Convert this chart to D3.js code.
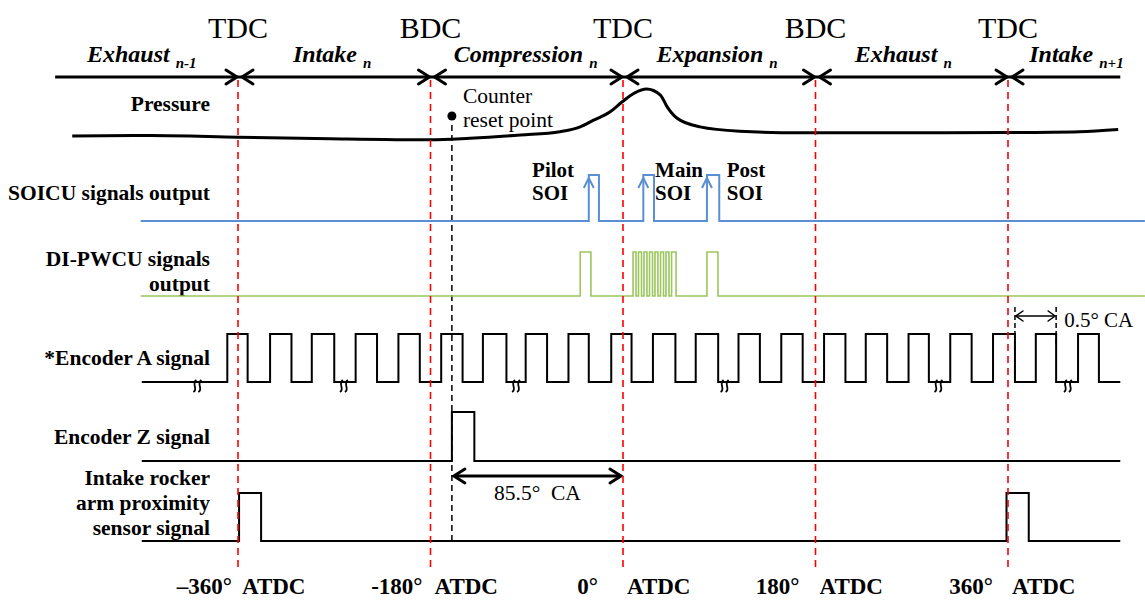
<!DOCTYPE html>
<html><head><meta charset="utf-8">
<script src="https://cdn.jsdelivr.net/npm/d3@7"></script>
<style>html,body{margin:0;padding:0;background:#fff}svg{display:block}</style>
</head><body>
<svg id="chart" width="1145" height="600"></svg>
<script>
// ---------- data (crank angle in degrees ATDC) ----------
const crankTicks = [-360, -180, 0, 180, 360];
const deadCentres = ["TDC", "BDC", "TDC", "BDC", "TDC"];
const tickLabels = ["\u2013360\u00B0", "-180\u00B0", "0\u00B0", "180\u00B0", "360\u00B0"];
const tickUnit = "ATDC";

const strokeNames = ["Exhaust", "Intake", "Compression", "Expansion", "Exhaust", "Intake"];
const strokeSubs = ["n-1", "n", "n", "n", "n", "n+1"];
const strokeLabelAngle = [-450, -272, -91, 88, 262, 424];
const strokeAxisStart = -531, strokeAxisEnd = 465;

const pressureAngle = [-515, -442, -360, -274, -180, -143, -96, -59, -40, -28, -12, -1, 11, 22, 35, 41, 50, 72, 109, 166, 259, 360, 427, 463];
const pressureValue = [11, 12, 9, 6, 4, 7, 13, 19, 28, 40, 56, 74, 91, 98, 87, 66, 45, 28, 20, 17, 17, 17.5, 19, 23];

const soiNames = ["Pilot", "Main", "Post"];
const soiStart = [-32, 19, 78.5];
const soiEnd = [-22.5, 29, 90];

const pwcuStart = [-40, 9.4, 14.5, 19.6, 24.8, 29.9, 35.1, 40.2, 45.4, 78.5];
const pwcuEnd = [-30, 12.2, 17.3, 22.4, 27.6, 32.7, 37.9, 43, 49.6, 88.8];

const encARise = [-370, -330, -291, -250, -210, -170, -131, -91, -51, -11, 28, 68, 108, 148, 188, 227, 267, 306, 346, 386, 425.5];
const encAFall = [-351, -310, -270, -230, -190, -150, -109, -71, -32, 8, 49, 89, 128, 168, 208, 247, 286, 326, 366.5, 405, 445];
const encABreaks = [-398, -261, -100, 95, 295, 416];

const encZStart = [-160];
const encZEnd = [-139];

const rockerStart = [-359, 358.6];
const rockerEnd = [-338.4, 379.4];

const counterReset = -160;
const counterToTDC = "85.5\u00B0  CA";
const resolutionMarks = [366.5, 405];
const resolutionLabel = "0.5\u00B0 CA";

const signalStart = -451, signalEnd = 488, pulseTrainStart = -450, pulseTrainEnd = 465;

// ---------- drawing ----------
const svg = d3.select("#chart");
const serif = "'Liberation Serif','Times New Roman',serif";
const x = d3.scaleLinear().domain([-360, 360]).range([238, 1008]);

const pY = d3.scaleLinear().domain([0, 100]).range([142, 88]);
const lvl = (low, high) => d3.scaleLinear().domain([0, 1]).range([low, high]);
const ySOI = lvl(221, 175), yPW = lvl(296, 252), yA = lvl(382, 334), yZ = lvl(461, 412), yR = lvl(541, 493);

function steps(a0, a1, starts, ends) {
  const pts = [[a0, 0]];
  starts.forEach((s, i) => { pts.push([s, 0], [s, 1], [ends[i], 1], [ends[i], 0]); });
  pts.push([a1, 0]);
  return pts;
}
function drawSteps(ys, pts, color, w) {
  const line = d3.line().x(d => x(d[0])).y(d => ys(d[1]));
  svg.append("path").attr("d", line(pts)).attr("fill", "none")
    .attr("stroke", color).attr("stroke-width", w).attr("stroke-linejoin", "miter");
}
function chevron(tx, ty, dir, len, half, w) {
  svg.append("path")
    .attr("d", `M${tx - dir * len},${ty - half}L${tx},${ty}L${tx - dir * len},${ty + half}`)
    .attr("fill", "none").attr("stroke", "#000").attr("stroke-width", w)
    .attr("stroke-linecap", "round").attr("stroke-linejoin", "miter");
}

// top labels
svg.selectAll(".dc").data(crankTicks).join("text")
  .attr("x", d => x(d)).attr("y", 38).attr("text-anchor", "middle")
  .attr("font-family", serif).attr("font-size", 30).text((d, i) => deadCentres[i]);

const ph = svg.selectAll(".ph").data(strokeNames).join("text")
  .attr("x", (d, i) => x(strokeLabelAngle[i])).attr("y", 62).attr("text-anchor", "middle")
  .attr("font-family", serif).attr("font-weight", "bold").attr("font-style", "italic").attr("font-size", 24);
ph.append("tspan").text(d => d + " ");
ph.append("tspan").attr("font-size", 15).attr("dy", 6).text((d, i) => strokeSubs[i]);

// stroke axis with arrows
svg.append("line").attr("x1", x(strokeAxisStart)).attr("x2", x(strokeAxisEnd))
  .attr("y1", 77).attr("y2", 77).attr("stroke", "#000").attr("stroke-width", 3);
crankTicks.forEach(b => {
  chevron(x(b) - 1, 77, 1, 11, 7, 3);
  chevron(x(b) + 4, 77, -1, 11, 7, 3);
});

// left labels
const leftLabels = [
  [["Pressure"], 111],
  [["SOICU signals output"], 200],
  [["DI-PWCU signals", "output"], 266],
  [["*Encoder A signal"], 365],
  [["Encoder Z signal"], 444],
  [["Intake rocker", "arm proximity", "sensor signal"], 485]
];
leftLabels.forEach(([lines, y0]) => {
  const t = svg.append("text").attr("font-family", serif).attr("font-weight", "bold")
    .attr("font-size", 21.5).attr("text-anchor", "end");
  lines.forEach((l, i) => t.append("tspan").attr("x", 210).attr("y", y0 + i * 25).text(l));
});

// pressure curve
const pLine = d3.line().x((d, i) => x(pressureAngle[i])).y(d => pY(d)).curve(d3.curveMonotoneX);
svg.append("path").attr("d", pLine(pressureValue)).attr("fill", "none")
  .attr("stroke", "#000").attr("stroke-width", 3);

// counter reset point
svg.append("line").attr("x1", x(counterReset)).attr("x2", x(counterReset))
  .attr("y1", 125).attr("y2", 545).attr("stroke", "#000").attr("stroke-width", 1.5)
  .attr("stroke-dasharray", "6,4");
svg.append("circle").attr("cx", x(counterReset)).attr("cy", 116).attr("r", 4.5).attr("fill", "#000");
const cr = svg.append("text").attr("font-family", serif).attr("font-size", 21.5);
cr.append("tspan").attr("x", x(counterReset) + 11).attr("y", 103).text("Counter");
cr.append("tspan").attr("x", x(counterReset) + 11).attr("y", 127).text("reset point");

// SOICU
drawSteps(ySOI, steps(signalStart, signalEnd, soiStart, soiEnd), "#5b8fd4", 2);
soiStart.forEach(s => {
  const tx = x(s), ty = ySOI(1) + 3;
  svg.append("path").attr("d", `M${tx - 5},${ty + 10}L${tx},${ty}L${tx + 5},${ty + 10}`)
    .attr("fill", "none").attr("stroke", "#5b8fd4").attr("stroke-width", 2);
});
const soiLabelX = [-85, 30, 97];
soiNames.forEach((n, i) => {
  const t = svg.append("text").attr("font-family", serif).attr("font-weight", "bold").attr("font-size", 21);
  t.append("tspan").attr("x", x(soiLabelX[i])).attr("y", 177).text(n);
  t.append("tspan").attr("x", x(soiLabelX[i])).attr("y", 200).text("SOI");
});

// DI-PWCU
drawSteps(yPW, steps(signalStart, signalEnd, pwcuStart, pwcuEnd), "#9cc65e", 1.6);

// Encoder A
drawSteps(yA, steps(pulseTrainStart, pulseTrainEnd, encARise, encAFall), "#000", 2);
encABreaks.forEach(b => {
  const bx = x(b), by = yA(0) + 2;
  [-2.5, 2.5].forEach(o => {
    svg.append("path")
      .attr("d", `M${bx + o - 1.5},${by + 8}C${bx + o + 4},${by + 5} ${bx + o - 4},${by} ${bx + o + 1.5},${by - 4}`)
      .attr("fill", "none").attr("stroke", "#000").attr("stroke-width", 1.8);
  });
});

// Encoder Z
drawSteps(yZ, steps(pulseTrainStart, pulseTrainEnd, encZStart, encZEnd), "#000", 2);

// 85.5 CA arrow
svg.append("line").attr("x1", x(counterReset) + 2).attr("x2", x(0) - 2).attr("y1", 476).attr("y2", 476)
  .attr("stroke", "#000").attr("stroke-width", 3);
chevron(x(counterReset) + 2, 476, -1, 11, 7, 3);
chevron(x(0) - 2, 476, 1, 11, 7, 3);
svg.append("text").attr("x", (x(counterReset) + x(0)) / 2).attr("y", 500).attr("text-anchor", "middle")
  .attr("font-family", serif).attr("font-size", 21.5).attr("xml:space", "preserve").text(counterToTDC);

// Rocker
drawSteps(yR, steps(pulseTrainStart, pulseTrainEnd, rockerStart, rockerEnd), "#000", 2);

// 0.5 CA resolution marker
resolutionMarks.forEach((m, i) => {
  svg.append("line").attr("x1", x(m)).attr("x2", x(m)).attr("y1", 307).attr("y2", i === 0 ? yA(1) : yA(1) + 12)
    .attr("stroke", "#000").attr("stroke-width", 1.5).attr("stroke-dasharray", "5,3");
});
svg.append("line").attr("x1", x(resolutionMarks[0]) + 1).attr("x2", x(resolutionMarks[1]) - 1)
  .attr("y1", 316).attr("y2", 316).attr("stroke", "#000").attr("stroke-width", 1.5);
chevron(x(resolutionMarks[0]) + 1, 316, -1, 7, 5, 1.5);
chevron(x(resolutionMarks[1]) - 1, 316, 1, 7, 5, 1.5);
svg.append("text").attr("x", x(resolutionMarks[1]) + 8).attr("y", 327)
  .attr("font-family", serif).attr("font-size", 21).text(resolutionLabel);

// red dashed TDC/BDC lines
svg.selectAll(".rl").data(crankTicks).join("line")
  .attr("x1", d => x(d)).attr("x2", d => x(d)).attr("y1", 80).attr("y2", 571)
  .attr("stroke", "#f00").attr("stroke-width", 1.6).attr("stroke-dasharray", "7,5");

// bottom labels
const labelGap = [6, 8, 25, 16, 15];
svg.selectAll(".bl").data(crankTicks).join("text")
  .attr("x", (d, i) => x(d) - labelGap[i]).attr("y", 594).attr("text-anchor", "end")
  .attr("font-family", serif).attr("font-weight", "bold").attr("font-size", 23)
  .text((d, i) => tickLabels[i]);
svg.selectAll(".bu").data(crankTicks).join("text")
  .attr("x", d => x(d) + 4).attr("y", 594)
  .attr("font-family", serif).attr("font-weight", "bold").attr("font-size", 23)
  .text(tickUnit);
</script>
</body></html>
